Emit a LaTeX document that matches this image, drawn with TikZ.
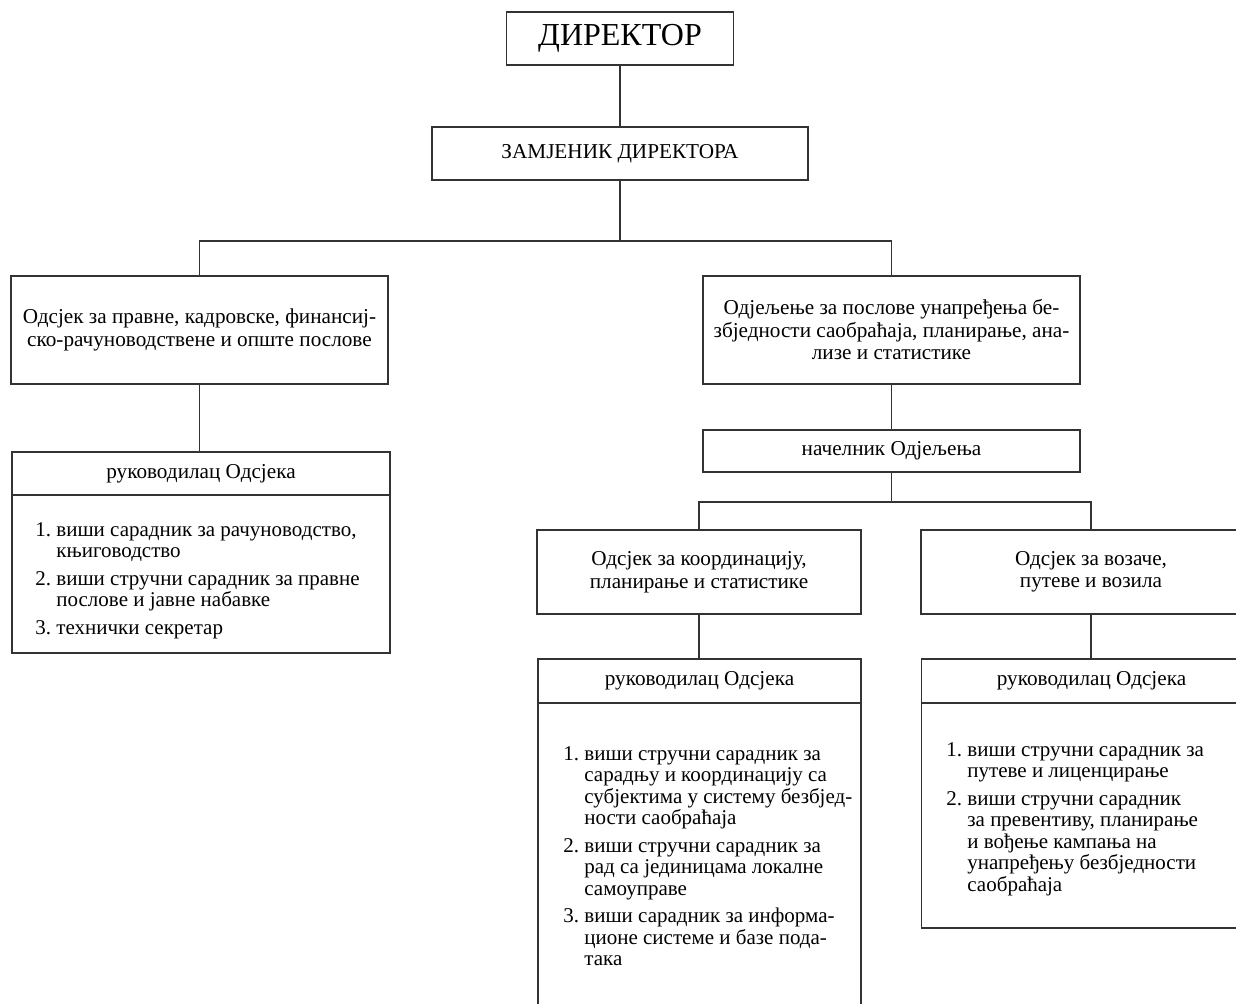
\documentclass[tikz,border=0pt]{standalone}
\usepackage{fontspec}
\setmainfont{Liberation Serif}
\begin{document}
\begin{tikzpicture}[x=0.5pt,y=-0.5pt,
  box/.style={draw=black!80, line width=0.9pt, inner sep=0pt, align=center,
    font=\fontsize{10.6}{11.25}\selectfont},
  listtext/.style={inner sep=0pt, anchor=base west,
    font=\fontsize{10.5}{10.75}\selectfont},
  conn/.style={draw=black!80, line width=0.9pt}]
\clip (0,0) rectangle (1236,1003);
% boxes
\node[box, minimum width=113.5pt, minimum height=26.5pt,
  font=\fontsize{16}{18}\selectfont] (dir) at (620,38.5) {ДИРЕКТОР};
\node[box, minimum width=188pt, minimum height=26.5pt] (zam) at (620,153.5) {ЗАМЈЕНИК ДИРЕКТОРА};
\node[box, minimum width=188.5pt, minimum height=54pt] (left) at (199.5,330)
  {Одсјек за правне, кадровске, финансиј-\\ско-рачуноводствене и опште послове};
\node[box, minimum width=188.5pt, minimum height=54pt] (right) at (891.5,330)
  {Одјељење за послове унапређења бе-\\збједности саобраћаја, планирање, ана-\\лизе и статистике};
\node[box, minimum width=189pt, minimum height=21.5pt] (rukLh) at (201,473.5) {руководилац Одсјека};
\node[box, minimum width=189pt, minimum height=79pt] (rukLb) at (201,574) {};
\node[box, minimum width=188.5pt, minimum height=21pt] (nac) at (891.5,451) {начелник Одјељења};
\node[box, minimum width=162pt, minimum height=42pt] (koord) at (699,572)
  {Одсјек за координацију,\\планирање и статистике};
\node[box, minimum width=170pt, minimum height=42pt] (voz) at (1091,572)
  {Одсјек за возаче,\\путеве и возила};
\node[box, minimum width=161.5pt, minimum height=22pt] (rukKh) at (699.5,681) {руководилац Одсјека};
\node[box, minimum width=161.5pt, minimum height=160pt] (rukKb) at (699.5,863) {};
\node[box, minimum width=170pt, minimum height=22pt] (rukVh) at (1091.5,681) {руководилац Одсјека};
\node[box, minimum width=170pt, minimum height=112.5pt] (rukVb) at (1091.5,815.5) {};
% lists
\node[listtext] (listL) at (35,536) {\begin{tabular}[t]{@{}l@{\ }l@{}}
1. & виши сарадник за рачуноводство,\\
   & књиговодство\\[3pt]
2. & виши стручни сарадник за правне\\
   & послове и јавне набавке\\[3pt]
3. & технички секретар
\end{tabular}};
\node[listtext] (listK) at (563,760) {\begin{tabular}[t]{@{}l@{\ }l@{}}
1. & виши стручни сарадник за\\
   & сарадњу и координацију са\\
   & субјектима у систему безбјед-\\
   & ности саобраћаја\\[3pt]
2. & виши стручни сарадник за\\
   & рад са јединицама локалне\\
   & самоуправе\\[3pt]
3. & виши сарадник за информа-\\
   & ционе системе и базе пода-\\
   & така
\end{tabular}};
\node[listtext] (listV) at (946,756) {\begin{tabular}[t]{@{}l@{\ }l@{}}
1. & виши стручни сарадник за\\
   & путеве и лиценцирање\\[3pt]
2. & виши стручни сарадник\\
   & за превентиву, планирање\\
   & и вођење кампања на\\
   & унапређењу безбједности\\
   & саобраћаја
\end{tabular}};
% connectors
\coordinate (j1) at (620,241);
\coordinate (j2) at (891.5,502);
\draw[conn] (dir) -- (zam);
\draw[conn] (zam.south) -- (j1);
\draw[conn] (left.north) |- (j1) -| (right.north);
\draw[conn] (left.south) -- (left.south |- rukLh.north);
\draw[conn] (right) -- (nac);
\draw[conn] (nac.south) -- (j2);
\draw[conn] (koord.north) |- (j2) -| (voz.north);
\draw[conn] (koord.south) -- (koord.south |- rukKh.north);
\draw[conn] (voz.south) -- (voz.south |- rukVh.north);
\end{tikzpicture}
\end{document}
